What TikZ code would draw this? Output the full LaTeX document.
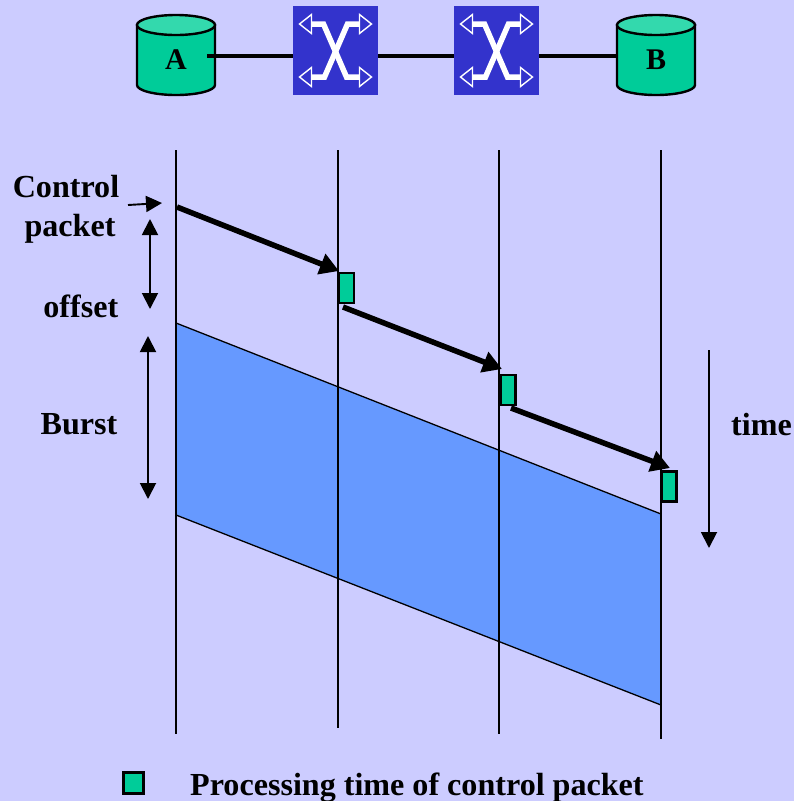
\documentclass[tikz,border=0pt]{standalone}
\usepackage{fontspec}
\setmainfont{Liberation Serif}
\usetikzlibrary{arrows.meta}
\definecolor{bgc}{HTML}{CCCCFF}
\definecolor{grn}{HTML}{00CC99}
\definecolor{grnl}{HTML}{33D9AD}
\definecolor{swc}{HTML}{3333CC}
\definecolor{brst}{HTML}{6699FF}
\tikzset{
  lbl/.style={font=\fontsize{32.1}{32}\selectfont\bfseries, align=center, inner sep=0pt},
  cyl/.style={draw=black, line width=2.4pt, fill=grn},
  cyltop/.style={draw=black, line width=2.4pt, fill=grnl},
  vline/.style={draw=black, line width=2.4pt},
  link/.style={draw=black, line width=4pt},
  ctrl/.style={draw=black, line width=5.5pt, -{Triangle[length=19pt,width=21pt]}},
  meas/.style={draw=black, line width=1.9pt, -{Triangle[length=16pt,width=16pt]}},
  measb/.style={draw=black, line width=1.9pt, {Triangle[length=16pt,width=16pt]}-{Triangle[length=16pt,width=16pt]}},
  procbox/.style={draw=black, line width=2.2pt, fill=grn, minimum width=15pt, minimum height=30pt, inner sep=0pt},
  swbox/.style={fill=swc, minimum width=85pt, minimum height=89pt, inner sep=0pt},
  swline/.style={draw=white, line width=5.5pt},
  swhead/.style={draw=white, line width=1.4pt, fill=swc},
}
\newcommand{\mycyl}[2]{%
  \draw[cyl] (#1-39,25) -- (#1-39,85) arc[start angle=180,end angle=0,x radius=39,y radius=10] -- (#1+39,25) -- cycle;
  \draw[cyltop] (#1,25) ellipse[x radius=39,y radius=10];
  \node[lbl, font=\fontsize{30}{30}\selectfont\bfseries] (#2) at (#1,60) {#2};
}
\newcommand{\myswitch}[2]{%
  \node[swbox] (#2) at (#1,50.5) {};
  \begin{scope}[shift={(#1,50.5)}]
    \draw[swline, line join=miter] (-24,-26.5) -- (-12,-26.5) -- (11,26.5) -- (24,26.5);
    \draw[swline, line join=miter] (24,-26.5) -- (12,-26.5) -- (-11,26.5) -- (-24,26.5);
    \draw[swhead] (-24,-36) -- (-36,-26.5) -- (-24,-17) -- cycle;
    \draw[swhead] (-24,17) -- (-36,26.5) -- (-24,36) -- cycle;
    \draw[swhead] (24,-36) -- (36,-26.5) -- (24,-17) -- cycle;
    \draw[swhead] (24,17) -- (36,26.5) -- (24,36) -- cycle;
  \end{scope}
}
\begin{document}
\begin{tikzpicture}[x=1pt,y=-1pt]
\path[use as bounding box, fill=bgc] (0,0) rectangle (794,801);
% burst
\fill[brst] (176,323) -- (661,514) -- (661,705) -- (176,515) -- cycle;
\draw[black, line width=1.3pt] (176,323) -- (661,514);
\draw[black, line width=1.3pt] (176,515) -- (661,705);
% timelines
\coordinate (t1) at (176,150); \coordinate (b1) at (176,734);
\coordinate (t2) at (338,150); \coordinate (b2) at (338,728);
\coordinate (t3) at (499,150); \coordinate (b3) at (499,734);
\coordinate (t4) at (661,150); \coordinate (b4) at (661,739);
\draw[vline] (t1) -- (b1);
\draw[vline] (t2) -- (b2);
\draw[vline] (t3) -- (b3);
\draw[vline] (t4) -- (b4);
% top topology
\coordinate (la) at (207,56);
\coordinate (lb) at (617,56);
\mycyl{176}{A}
\mycyl{656}{B}
\myswitch{335.5}{S1}
\myswitch{496.5}{S2}
\draw[link] (la) -- (S1.west |- la);
\draw[link] (S1.east |- la) -- (S2.west |- la);
\draw[link] (S2.east |- lb) -- (lb);
% processing boxes
\node[procbox] (p1) at (346.5,288) {};
\node[procbox] (p2) at (508,390) {};
\node[procbox] (p3) at (669,486.5) {};
% control arrows
\coordinate (c0) at (177,207);
\coordinate (c1) at (339,271);
\coordinate (c2) at (343,307);
\coordinate (c3) at (502,369);
\coordinate (c4) at (511,408);
\coordinate (c5) at (670,468);
\draw[ctrl] (c0) -- (c1);
\draw[ctrl] (c2) -- (c3);
\draw[ctrl] (c4) -- (c5);
% labels
\node[lbl, anchor=base, align=center] (lc) at (66,236) {Control\\[7pt]\hspace*{8pt}packet};
\node[lbl, anchor=base east] (lo) at (118.5,317) {offset};
\node[lbl, anchor=base east] (lbu) at (117.5,434) {Burst};
\node[lbl, anchor=base east] (lt) at (792,435) {time};
% measure arrows
\coordinate (m0) at (128,205); \coordinate (m1) at (162,203);
\coordinate (o0) at (150,219); \coordinate (o1) at (150,309);
\coordinate (u0) at (148,336); \coordinate (u1) at (148,499);
\coordinate (w0) at (709,350); \coordinate (w1) at (709,548);
\draw[meas] (m0) -- (m1);
\draw[measb] (o0) -- (o1);
\draw[measb] (u0) -- (u1);
\draw[meas] (w0) -- (w1);
% legend
\node[procbox, minimum width=20pt, minimum height=21pt] (lg) at (133.5,783) {};
\node[lbl, anchor=base west] (lgt) at (190,795.5) {Processing time of control packet};
\end{tikzpicture}
\end{document}
